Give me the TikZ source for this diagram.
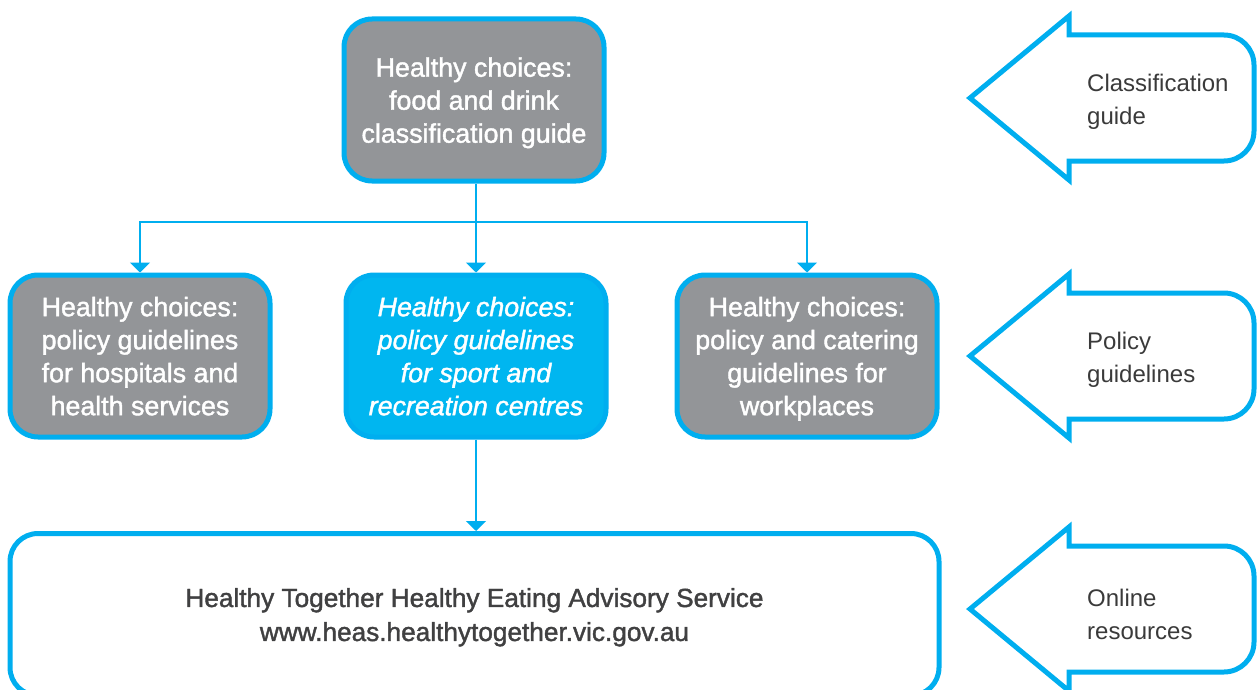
\documentclass[tikz,border=0pt]{standalone}
\usepackage{xcolor}
\usepackage{fontspec}
\setmainfont{Liberation Sans}
\newfontfamily\mediumsans[FakeBold=1.5]{Liberation Sans}
\usepackage{tikz}
\usetikzlibrary{calc}
\usetikzlibrary{arrows.meta}

\definecolor{heasblue}{HTML}{00AEEF}
\definecolor{sportblue}{HTML}{00B6F0}
\definecolor{heasgrey}{HTML}{939598}
\definecolor{labelgrey}{HTML}{3A3A3A}
\definecolor{servicegrey}{HTML}{404041}

\begin{document}
\begin{tikzpicture}[x=1pt,y=-1pt]
    \tikzstyle{guide}=[draw=heasblue,line width=5pt,rounded corners=28pt,fill=heasgrey,text=white,align=center,minimum width=260pt,minimum height=162pt,text depth=0pt,font=\mediumsans\fontsize{26.8}{33}\selectfont]
    \tikzstyle{guide sport}=[guide,fill=sportblue,font=\mediumsans\fontsize{26.8}{33}\selectfont\itshape]
    \tikzstyle{service}=[guide,fill=white,text=servicegrey,minimum width=929pt,font=\mediumsans\fontsize{26.2}{34}\selectfont]
    \tikzstyle{flow}=[-{Triangle[width=20pt,length=10pt]},line width=2pt,color=heasblue]
    \tikzstyle{side arrow}=[draw=heasblue,line width=5pt,line join=miter]
    \tikzstyle{side text}=[anchor=west,align=left,inner xsep=0pt,text depth=0pt,text=labelgrey,font=\fontsize{24}{33}\selectfont]

    \useasboundingbox (0,0) rectangle (1258,690);
    \clip (0,0) rectangle (1258,690);

    % Boxes
    \node[style=guide] (classif) at (474,100) {Healthy choices:\\food and drink\\classification guide};
    \node[style=guide] (hosp) at (140,356) {Healthy choices:\\policy guidelines\\for hospitals and\\health services};
    \node[style=guide sport] (sport) at (476,356) {Healthy choices:\\policy guidelines\\for sport and\\recreation centres};
    \node[style=guide] (work) at (807,356) {Healthy choices:\\policy and catering\\guidelines for\\workplaces};
    \node[style=service] (heas) at (474.5,614.5) {Healthy Together Healthy Eating Advisory Service\\www.heas.healthytogether.vic.gov.au};

    % Connectors
    \coordinate (split) at (476,222);
    \draw[style=flow] (split) -| (hosp.north);
    \draw[style=flow] (split) -| (work.north);
    \draw[style=flow] (classif.south -| sport.north) -- (sport.north);
    \draw[style=flow] (sport.south) -- (sport.south |- heas.north);

    % Classification arrow
    \draw[style=side arrow] (970,98) -- (1069,16) -- (1069,35) -- (1150,35) [rounded corners=30pt] -- (1254,35)
                            -- (1254,161) -- (1150,161) [sharp corners] -- (1069,161) -- (1069,180) -- cycle;
    \node[style=side text] (classlabel) at (1087,99) {Classification\\guide};

    % Policy arrow
    \draw[style=side arrow] (970,356) -- (1069,274) -- (1069,293) -- (1150,293) [rounded corners=30pt] -- (1254,293)
                            -- (1254,419) -- (1150,419) [sharp corners] -- (1069,419) -- (1069,438) -- cycle;
    \node[style=side text] (policylabel) at (1087,357) {Policy\\guidelines};

    % Online arrow
    \draw[style=side arrow] (970,609) -- (1069,527) -- (1069,546) -- (1150,546) [rounded corners=30pt] -- (1254,546)
                            -- (1254,672) -- (1150,672) [sharp corners] -- (1069,672) -- (1069,691) -- cycle;
    \node[style=side text] (onlinelabel) at (1087,614) {Online\\resources};

\end{tikzpicture}
\end{document}
